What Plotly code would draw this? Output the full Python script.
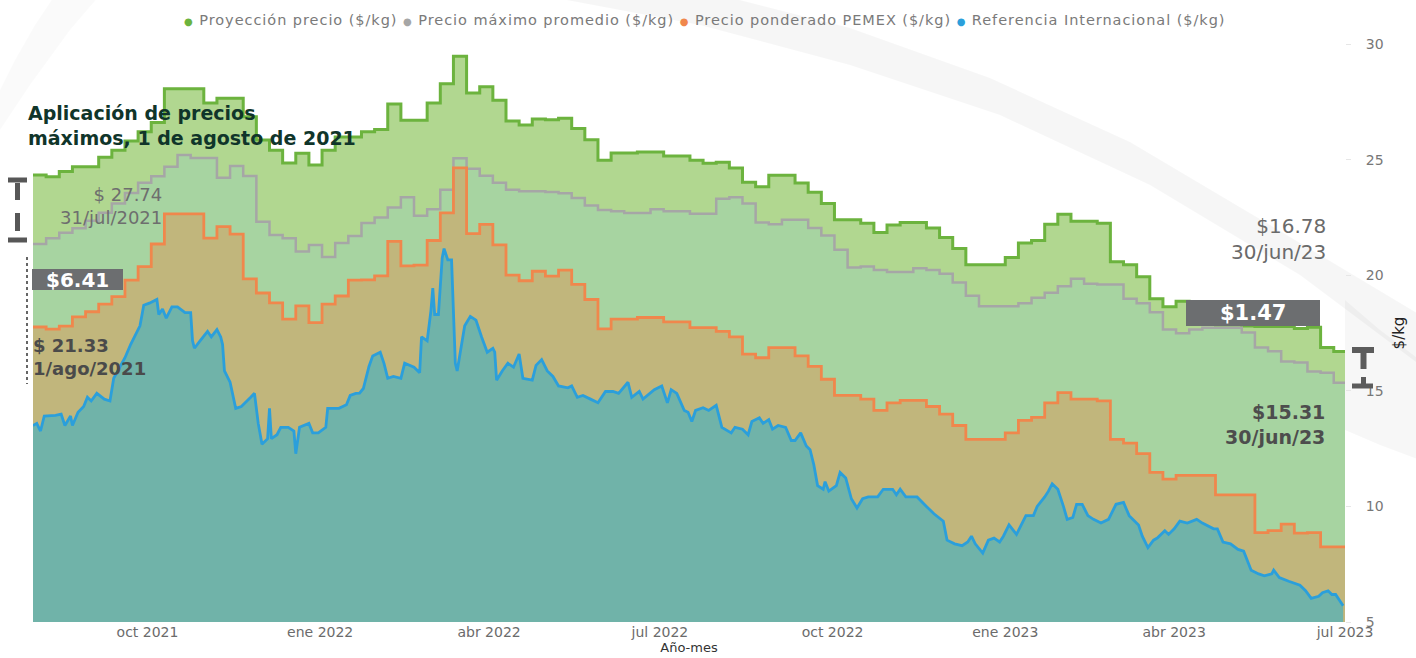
import pandas as pd
import plotly.graph_objects as go

# ---------------- data ----------------
inicio = "2021-08-01"
fin = "2023-07-01"

x_ticks = ["2021-10-01", "2022-01-01", "2022-04-01", "2022-07-01",
           "2022-10-01", "2023-01-01", "2023-04-01", "2023-07-01"]
x_ticktext = ["oct 2021", "ene 2022", "abr 2022", "jul 2022",
              "oct 2022", "ene 2023", "abr 2023", "jul 2023"]
y_ticks = [5, 10, 15, 20, 25, 30]

# weekly values ($/kg), one per week starting 1/ago/2021
proyeccion = [
    24.33, 24.26, 24.48, 24.69, 24.69, 25.10, 25.40, 25.80, 26.20, 26.60,
    28.06, 28.06, 28.06, 27.45, 27.65, 27.65, 26.85, 25.85, 25.40, 24.85,
    25.28, 24.77, 25.40, 25.98, 25.98, 26.20, 26.30, 27.40, 26.70, 26.70,
    27.45, 28.28, 29.47, 27.88, 28.15, 27.57, 26.67, 26.50, 26.76, 26.72,
    26.79, 26.35, 25.86, 24.97, 25.29, 25.29, 25.33, 25.33, 25.16, 25.16,
    24.97, 24.84, 24.89, 24.64, 24.02, 23.83, 24.32, 24.32, 23.99, 23.59,
    23.10, 22.40, 22.40, 22.25, 21.85, 22.17, 22.28, 22.28, 22.04, 21.63,
    21.15, 20.45, 20.45, 20.45, 20.77, 21.39, 21.50, 22.20, 22.64, 22.33,
    22.33, 22.25, 20.58, 20.45, 19.93, 18.98, 18.63, 18.87, 18.30, 17.90,
    17.85, 17.85, 17.80, 17.78, 17.78, 17.78, 17.70, 17.75, 16.87, 16.70,
]
maximo = [
    21.35, 21.60, 21.84, 22.03, 22.35, 22.70, 23.10, 23.55, 24.00, 24.28,
    24.69, 25.20, 25.07, 25.07, 24.22, 24.72, 24.29, 22.31, 21.74, 21.60,
    21.02, 21.31, 20.79, 21.39, 21.70, 22.26, 22.50, 22.93, 23.37, 22.57,
    22.85, 23.70, 25.06, 24.60, 24.30, 24.00, 23.70, 23.63, 23.63, 23.60,
    23.54, 23.34, 23.02, 22.82, 22.77, 22.69, 22.69, 22.85, 22.77, 22.77,
    22.66, 22.66, 23.31, 23.37, 23.10, 22.28, 22.20, 22.40, 22.40, 22.04,
    21.72, 21.10, 20.33, 20.38, 20.22, 20.14, 20.14, 20.30, 20.22, 20.06,
    19.68, 19.11, 18.66, 18.66, 18.66, 18.79, 19.03, 19.24, 19.52, 19.85,
    19.63, 19.60, 19.60, 18.98, 18.79, 18.40, 17.65, 17.49, 17.65, 17.73,
    17.73, 17.73, 17.52, 16.87, 16.71, 16.27, 16.22, 15.83, 15.78, 15.35,
]
ponderado = [
    17.76, 17.67, 17.80, 18.20, 18.42, 18.75, 19.07, 19.79, 20.37, 21.35,
    22.65, 22.65, 22.65, 21.60, 22.10, 21.78, 19.84, 19.23, 18.80, 18.10,
    18.67, 17.95, 18.75, 19.10, 19.79, 19.80, 19.97, 21.46, 20.40, 20.44,
    21.50, 22.70, 24.64, 21.80, 22.20, 21.31, 20.00, 19.76, 20.17, 19.96,
    20.22, 19.60, 18.95, 17.68, 18.10, 18.10, 18.17, 18.17, 17.98, 17.98,
    17.73, 17.73, 17.57, 17.33, 16.59, 16.43, 16.87, 16.87, 16.51, 16.06,
    15.50, 14.80, 14.80, 14.64, 14.15, 14.48, 14.59, 14.59, 14.32, 13.99,
    13.50, 12.90, 12.90, 12.90, 13.18, 13.72, 13.85, 14.48, 14.92, 14.64,
    14.64, 14.56, 12.90, 12.74, 12.28, 11.47, 11.18, 11.34, 11.34, 11.34,
    10.50, 10.50, 10.50, 8.87, 8.95, 9.23, 8.84, 8.87, 8.25, 8.25,
]
# daily reference price: (days after 1/ago/2021, $/kg)
referencia = [
    (0, 13.50), (2, 13.59), (4, 13.26), (6, 13.91), (12, 13.94), (15, 13.99), (17, 13.50),
    (20, 13.91), (21, 13.50), (24, 14.07), (27, 14.32), (29, 14.72), (31, 14.56), (34, 14.89),
    (38, 14.64), (41, 14.56), (43, 15.54), (45, 15.86), (49, 16.43), (52, 17.00), (54, 17.33),
    (57, 17.81), (59, 18.70), (62, 18.79), (66, 18.95), (67, 18.30), (69, 18.54), (71, 18.14),
    (74, 18.63), (77, 18.63), (81, 18.38), (84, 18.38), (85, 17.16), (86, 16.84), (89, 17.16),
    (93, 17.57), (95, 17.33), (98, 17.65), (100, 17.33), (101, 17.00), (102, 15.86), (105, 15.37),
    (108, 14.24), (111, 14.32), (116, 14.72), (118, 14.89), (120, 13.59), (122, 12.69), (125, 12.93),
    (126, 14.24), (127, 12.93), (130, 13.10), (132, 13.42), (136, 13.42), (139, 13.26), (140, 12.28),
    (142, 13.42), (147, 13.59), (149, 13.18), (152, 13.18), (156, 13.42), (157, 14.24), (163, 14.24),
    (167, 14.40), (169, 14.80), (172, 14.89), (174, 14.90), (176, 15.10), (179, 16.05), (181, 16.51),
    (185, 16.67), (187, 16.19), (189, 15.54), (192, 15.62), (196, 15.54), (198, 16.19), (203, 16.02),
    (206, 15.78), (207, 17.33), (210, 17.16), (212, 18.46), (213, 19.44), (214, 18.30), (216, 18.30),
    (218, 20.74), (219, 21.15), (221, 20.66), (223, 20.66), (225, 16.19), (226, 15.86), (228, 16.84),
    (230, 17.81), (233, 18.22), (236, 18.06), (239, 17.33), (242, 16.67), (245, 16.84), (246, 16.67),
    (247, 15.46), (250, 15.86), (253, 16.19), (256, 16.02), (259, 16.59), (261, 15.54), (266, 15.46),
    (268, 16.10), (271, 16.35), (274, 15.86), (277, 15.62), (280, 15.21), (285, 15.13), (287, 15.21),
    (290, 14.72), (293, 14.80), (297, 14.64), (301, 14.48), (305, 14.97), (309, 14.97), (312, 14.89),
    (317, 15.37), (319, 14.72), (323, 14.97), (325, 14.64), (331, 15.05), (335, 15.21), (338, 14.48),
    (340, 15.05), (343, 14.89), (347, 14.15), (349, 14.07), (351, 13.67), (353, 14.15), (357, 14.27),
    (360, 14.15), (364, 14.37), (367, 13.42), (372, 13.18), (374, 13.42), (378, 13.34), (381, 13.10),
    (383, 13.67), (387, 13.83), (389, 13.59), (392, 13.75), (394, 13.34), (397, 13.50), (401, 13.42),
    (404, 12.85), (406, 12.85), (409, 13.18), (412, 12.61), (414, 12.45), (416, 11.80), (418, 10.90),
    (421, 10.74), (422, 11.07), (424, 10.66), (428, 10.90), (430, 11.47), (433, 11.23), (436, 10.33),
    (439, 9.93), (442, 10.33), (445, 10.41), (450, 10.41), (453, 10.74), (458, 10.74), (460, 10.50),
    (462, 10.74), (465, 10.41), (469, 10.41), (471, 10.41), (476, 10.00), (480, 9.68), (485, 9.36),
    (487, 8.54), (491, 8.38), (495, 8.30), (498, 8.46), (500, 8.71), (502, 8.38), (506, 7.98),
    (509, 8.54), (512, 8.63), (515, 8.46), (517, 8.71), (520, 9.20), (524, 8.79), (526, 9.11),
    (529, 9.60), (533, 9.60), (535, 10.00), (539, 10.41), (541, 10.66), (543, 10.98), (546, 10.74),
    (549, 10.00), (551, 9.44), (554, 9.52), (556, 10.09), (559, 10.09), (562, 9.60), (565, 9.44),
    (569, 9.28), (573, 9.44), (577, 10.09), (581, 10.17), (584, 9.60), (589, 9.20), (591, 8.71),
    (594, 8.22), (597, 8.54), (599, 8.63), (603, 8.95), (605, 8.79), (608, 9.03), (611, 9.36),
    (615, 9.28), (620, 9.44), (623, 9.28), (629, 9.03), (631, 9.03), (634, 8.46), (638, 8.38),
    (642, 8.14), (645, 8.06), (649, 7.24), (653, 7.08), (656, 7.00), (660, 7.08), (661, 7.24),
    (664, 6.92), (669, 6.76), (672, 6.67), (675, 6.59), (678, 6.35), (681, 6.02), (685, 6.11),
    (687, 6.27), (690, 6.35), (692, 6.19), (694, 6.19), (697, 5.86), (698, 5.70),
]

nombres = ["Proyección precio ($/kg)", "Precio máximo promedio ($/kg)",
           "Precio ponderado PEMEX ($/kg)", "Referencia Internacional ($/kg)"]
color_linea = ["#6cb33e", "#a6a6a6", "#f0874c", "#2b9fdb"]
color_area = ["#b1d790", "#a7d4a1", "#c1b67c", "#70b3a9"]
ancho_linea = [3, 2.5, 2.8, 2.8]

# ---------------- build x/y ----------------
semanas = list(pd.date_range(inicio, periods=len(proyeccion), freq="7D")) + [pd.Timestamp(fin)]


def cierre(v):
    return list(v) + [v[-1]]


ref_x = [pd.Timestamp(inicio) + pd.Timedelta(days=d) for d, _ in referencia]
ref_y = [v for _, v in referencia]

series = [
    (semanas, cierre(proyeccion), "hv"),
    (semanas, cierre(maximo), "hv"),
    (semanas, cierre(ponderado), "hv"),
    (ref_x, ref_y, "linear"),
]

fig = go.Figure()
# areas first
for i, (xs, ys, shp) in enumerate(series):
    fig.add_trace(go.Scatter(x=xs, y=ys, mode="lines", name=nombres[i],
                             line=dict(width=0, shape=shp), fill="tozeroy",
                             fillcolor=color_area[i], showlegend=False, hoverinfo="skip"))
# lines on top
for i, (xs, ys, shp) in enumerate(series):
    fig.add_trace(go.Scatter(x=xs, y=ys, mode="lines", name=nombres[i],
                             line=dict(width=ancho_linea[i], color=color_linea[i], shape=shp),
                             showlegend=False))

# ---------------- geometry helpers for decorations ----------------
W, H = 1416, 658
PL, PR, PT, PB = 33, 1345, 44, 622


def fx(p):
    return (p - PL) / (PR - PL)


def fy(p):
    return (PB - p) / (PB - PT)


FONT = "DejaVu Sans"
shapes = []
annotations = []


# background swooshes (decorative)
def band(points_top, points_bot, color):
    pts = points_top + points_bot[::-1]
    path = "M " + " L ".join(f"{fx(a):.4f},{fy(b):.4f}" for a, b in pts) + " Z"
    shapes.append(dict(type="path", path=path, xref="paper", yref="paper",
                       fillcolor=color, line=dict(width=0), layer="below"))


top_curve = [(540, -5), (700, 25), (850, 65), (1000, 115), (1150, 185), (1300, 275), (1420, 365)]
bot_curve = [(720, -5), (850, 28), (990, 78), (1130, 142), (1270, 225), (1420, 315)]
band(top_curve, bot_curve, "rgba(0,0,0,0.035)")
top2 = [(0, 90), (15, 60), (35, 25), (55, -5)]
bot2 = [(0, 130), (30, 85), (70, 30), (100, -5)]
band(top2, bot2, "rgba(0,0,0,0.018)")
band([(1345, 300), (1380, 330), (1420, 360)], [(1345, 430), (1380, 445), (1420, 460)],
     "rgba(0,0,0,0.03)")

# legend as a row of text
leg = " ".join(
    f"<span style='color:{c};font-size:10px'>●</span> {n}" for c, n in zip(color_linea, nombres)
)
leg = f"<span style='letter-spacing:0.95px'>{leg}</span>"
annotations.append(dict(text=leg, x=fx(704), y=fy(20), xref="paper", yref="paper",
                        xanchor="center", yanchor="middle", showarrow=False,
                        font=dict(family=FONT, size=14.5, color="#7a7a7a")))

# title
annotations.append(dict(text="<b>Aplicación de precios<br>máximos, 1 de agosto de 2021</b>",
                        x=fx(26), y=fy(125), xref="paper", yref="paper", xanchor="left",
                        yanchor="middle", align="left", showarrow=False,
                        font=dict(family=FONT, size=19, color="#10352a")))

# left labels
annotations.append(dict(text="$ 27.74<br>31/jul/2021", x=fx(164), y=fy(206), xref="paper",
                        yref="paper", xanchor="right", yanchor="middle", align="right",
                        showarrow=False, font=dict(family=FONT, size=18, color="#6e6e6e")))
annotations.append(dict(text="<b>$ 21.33<br>1/ago/2021</b>", x=fx(31), y=fy(357), xref="paper",
                        yref="paper", xanchor="left", yanchor="middle", align="left",
                        showarrow=False, font=dict(family=FONT, size=18, color="#4a4a4a")))

# right labels
annotations.append(dict(text="$16.78<br>30/jun/23", x=fx(1328), y=fy(239), xref="paper",
                        yref="paper", xanchor="right", yanchor="middle", align="right",
                        showarrow=False, font=dict(family=FONT, size=20, color="#6a6a6a")))
annotations.append(dict(text="<b>$15.31<br>30/jun/23</b>", x=fx(1327), y=fy(424), xref="paper",
                        yref="paper", xanchor="right", yanchor="middle", align="right",
                        showarrow=False, font=dict(family=FONT, size=19, color="#4d4d4d")))

# difference boxes
for (x0, y0, x1, y1, txt, size) in [(32, 269, 123, 290, "$6.41", 20),
                                     (1186, 300, 1320, 326, "$1.47", 21)]:
    shapes.append(dict(type="rect", xref="paper", yref="paper", x0=fx(x0), x1=fx(x1),
                       y0=fy(y1), y1=fy(y0), fillcolor="#6c6e70", line=dict(width=0),
                       layer="above"))
    annotations.append(dict(text=f"<b>{txt}</b>", x=fx((x0 + x1) / 2), y=fy((y0 + y1) / 2),
                            xref="paper", yref="paper", xanchor="center", yanchor="middle",
                            showarrow=False, font=dict(family=FONT, size=size, color="white")))


def seg(x0, y0, x1, y1, w, color="#575757", dash="solid"):
    shapes.append(dict(type="line", xref="paper", yref="paper", x0=fx(x0), y0=fy(y0),
                       x1=fx(x1), y1=fy(y1), line=dict(color=color, width=w, dash=dash),
                       layer="above"))


# left I-beam
seg(8, 180, 27, 180, 5)
seg(17.5, 183, 17.5, 200, 5)
seg(17.5, 213, 17.5, 231, 5)
seg(8, 240, 27, 240, 5)
# dotted guide
seg(27, 257, 27, 384, 2, color="#666666", dash="dot")
# right I-beam
seg(1352, 350, 1374, 350, 6, color="#5c5c5c")
seg(1363.5, 350, 1363.5, 369, 6, color="#5c5c5c")
seg(1363.5, 377, 1363.5, 385, 5, color="#5c5c5c")
seg(1352, 386, 1373, 386, 5, color="#5c5c5c")

fig.update_layout(
    width=W, height=H,
    margin=dict(l=PL, r=W - PR, t=PT, b=H - PB),
    paper_bgcolor="white", plot_bgcolor="rgba(0,0,0,0)",
    font=dict(family=FONT, color="#666"),
    showlegend=False,
    shapes=shapes, annotations=annotations,
    hovermode="x",
)
fig.update_xaxes(type="date", range=[inicio, fin], tickvals=x_ticks, ticktext=x_ticktext,
                 showgrid=False, zeroline=False, showline=False, ticks="",
                 tickfont=dict(family=FONT, size=14, color="#6b6b6b"),
                 title=dict(text="Año-mes", font=dict(family=FONT, size=13, color="#333"),
                            standoff=2), automargin=False)
fig.update_yaxes(side="right", range=[5, 30], tickvals=y_ticks, showgrid=False,
                 zeroline=False, showline=False, ticks="outside", ticklen=5,
                 tickcolor="#e6e6e6", ticklabelstandoff=12,
                 tickfont=dict(family=FONT, size=14, color="#777"),
                 title=dict(text="$/kg", font=dict(family=FONT, size=15, color="#222"),
                            standoff=10), automargin=False)

fig.write_html("out.html", config={"displayModeBar": False},
               post_script="document.body.style.margin='0';document.body.style.overflow='hidden';")
